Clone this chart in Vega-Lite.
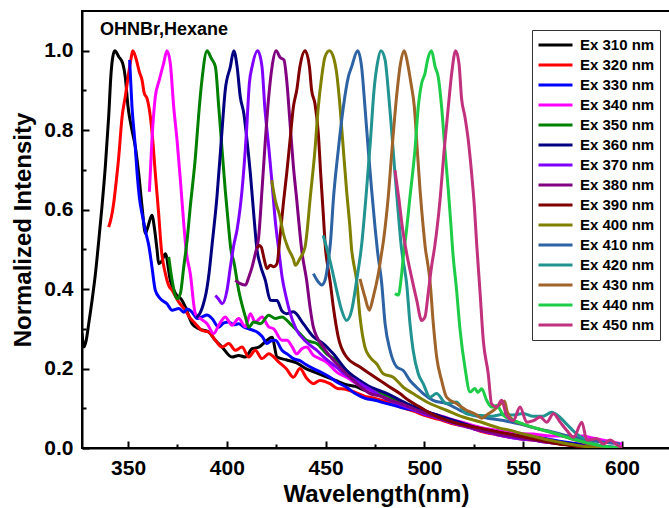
{
"$schema": "https://vega.github.io/schema/vega-lite/v6.json",
"width": 588, "height": 437,
"autosize": {"type": "none"},
"padding": {"left": 82, "top": 11, "right": 0, "bottom": 60},
"config": {"view": {"stroke": "black", "strokeWidth": 2}, "font": "Liberation Sans"},
"datasets": {
"note": [{"x": 335.8, "y": 1.04, "t": "OHNBr,Hexane"}],
"spectra": [
{"s":310,"w":326.7,"v":0.29},{"s":310,"w":327.7,"v":0.254},{"s":310,"w":328.8,"v":0.27},{"s":310,"w":330.1,"v":0.313},{"s":310,"w":331.8,"v":0.372},{"s":310,"w":333.5,"v":0.439},{"s":310,"w":335.2,"v":0.523},{"s":310,"w":336.8,"v":0.607},{"s":310,"w":338.5,"v":0.708},{"s":310,"w":340.2,"v":0.834},{"s":310,"w":341.4,"v":0.943},{"s":310,"w":342.3,"v":0.985},{"s":310,"w":343.3,"v":1.0},{"s":310,"w":345.3,"v":0.985},{"s":310,"w":347.3,"v":0.968},{"s":310,"w":348.6,"v":0.934},{"s":310,"w":350,"v":0.859},{"s":310,"w":352,"v":0.8},{"s":310,"w":353.7,"v":0.758},{"s":310,"w":355.4,"v":0.691},{"s":310,"w":357.1,"v":0.607},{"s":310,"w":358.8,"v":0.54},{"s":310,"w":360,"v":0.556},{"s":310,"w":362.1,"v":0.586},{"s":310,"w":363.5,"v":0.548},{"s":310,"w":364.7,"v":0.498},{"s":310,"w":365.5,"v":0.464},{"s":310,"w":367,"v":0.47},{"s":310,"w":368.9,"v":0.489},{"s":310,"w":371.4,"v":0.422},{"s":310,"w":374,"v":0.389},{"s":310,"w":377.3,"v":0.372},{"s":310,"w":379,"v":0.355},{"s":310,"w":382.4,"v":0.313},{"s":310,"w":385.8,"v":0.3},{"s":310,"w":390.8,"v":0.292},{"s":310,"w":394.2,"v":0.271},{"s":310,"w":397.6,"v":0.254},{"s":310,"w":402.6,"v":0.229},{"s":310,"w":406,"v":0.233},{"s":310,"w":409.4,"v":0.229},{"s":310,"w":412.8,"v":0.25},{"s":310,"w":416.2,"v":0.254},{"s":310,"w":420.3,"v":0.271},{"s":310,"w":422.9,"v":0.279},{"s":310,"w":425.4,"v":0.229},{"s":310,"w":430,"v":0.222},{"s":310,"w":435,"v":0.215},{"s":310,"w":440,"v":0.2},{"s":310,"w":445,"v":0.19},{"s":310,"w":450,"v":0.18},{"s":310,"w":455,"v":0.17},{"s":310,"w":460,"v":0.16},{"s":310,"w":465,"v":0.155},{"s":310,"w":470,"v":0.145},{"s":310,"w":475,"v":0.138},{"s":310,"w":480,"v":0.128},{"s":310,"w":485,"v":0.12},{"s":310,"w":490,"v":0.11},{"s":310,"w":495,"v":0.1},{"s":310,"w":500,"v":0.09},{"s":310,"w":505,"v":0.085},{"s":310,"w":510,"v":0.075},{"s":310,"w":515,"v":0.068},{"s":310,"w":520,"v":0.06},{"s":310,"w":525,"v":0.052},{"s":310,"w":530,"v":0.045},{"s":310,"w":535,"v":0.04},{"s":310,"w":540,"v":0.035},{"s":310,"w":545,"v":0.032},{"s":310,"w":550,"v":0.027},{"s":310,"w":555,"v":0.022},{"s":310,"w":560,"v":0.02},{"s":310,"w":565,"v":0.016},{"s":310,"w":570,"v":0.012},{"s":310,"w":575,"v":0.01},{"s":310,"w":580,"v":0.007},{"s":310,"w":585,"v":0.005},{"s":310,"w":590,"v":0.003},{"s":310,"w":595,"v":0.002},{"s":310,"w":600,"v":0},
{"s":320,"w":340.2,"v":0.556},{"s":320,"w":341.5,"v":0.58},{"s":320,"w":342.7,"v":0.615},{"s":320,"w":344,"v":0.67},{"s":320,"w":345.3,"v":0.733},{"s":320,"w":347,"v":0.834},{"s":320,"w":348.6,"v":0.884},{"s":320,"w":350.3,"v":0.943},{"s":320,"w":351.5,"v":0.98},{"s":320,"w":352.4,"v":1.0},{"s":320,"w":354,"v":0.981},{"s":320,"w":355.7,"v":0.947},{"s":320,"w":357.1,"v":0.926},{"s":320,"w":358.2,"v":0.893},{"s":320,"w":359.6,"v":0.88},{"s":320,"w":361.3,"v":0.834},{"s":320,"w":362.5,"v":0.775},{"s":320,"w":363.8,"v":0.691},{"s":320,"w":365.5,"v":0.59},{"s":320,"w":366.9,"v":0.498},{"s":320,"w":368.9,"v":0.439},{"s":320,"w":370.5,"v":0.41},{"s":320,"w":372.3,"v":0.397},{"s":320,"w":375.7,"v":0.367},{"s":320,"w":379.1,"v":0.346},{"s":320,"w":381,"v":0.33},{"s":320,"w":384.1,"v":0.313},{"s":320,"w":387.4,"v":0.296},{"s":320,"w":390.8,"v":0.292},{"s":320,"w":394.2,"v":0.271},{"s":320,"w":397.6,"v":0.254},{"s":320,"w":401,"v":0.263},{"s":320,"w":404.3,"v":0.246},{"s":320,"w":407.7,"v":0.254},{"s":320,"w":411.1,"v":0.229},{"s":320,"w":414.4,"v":0.246},{"s":320,"w":417.8,"v":0.225},{"s":320,"w":421.2,"v":0.237},{"s":320,"w":426.3,"v":0.216},{"s":320,"w":430,"v":0.2},{"s":320,"w":433.7,"v":0.178},{"s":320,"w":437,"v":0.2},{"s":320,"w":440.5,"v":0.175},{"s":320,"w":443.8,"v":0.162},{"s":320,"w":447.1,"v":0.17},{"s":320,"w":452.2,"v":0.162},{"s":320,"w":456,"v":0.15},{"s":320,"w":460,"v":0.148},{"s":320,"w":465,"v":0.14},{"s":320,"w":470,"v":0.13},{"s":320,"w":475,"v":0.125},{"s":320,"w":480,"v":0.118},{"s":320,"w":485,"v":0.108},{"s":320,"w":490,"v":0.1},{"s":320,"w":495,"v":0.092},{"s":320,"w":500,"v":0.082},{"s":320,"w":505,"v":0.075},{"s":320,"w":510,"v":0.068},{"s":320,"w":515,"v":0.06},{"s":320,"w":520,"v":0.055},{"s":320,"w":525,"v":0.048},{"s":320,"w":530,"v":0.04},{"s":320,"w":535,"v":0.035},{"s":320,"w":540,"v":0.03},{"s":320,"w":545,"v":0.026},{"s":320,"w":550,"v":0.022},{"s":320,"w":555,"v":0.02},{"s":320,"w":560,"v":0.016},{"s":320,"w":565,"v":0.013},{"s":320,"w":570,"v":0.01},{"s":320,"w":575,"v":0.008},{"s":320,"w":580,"v":0.005},{"s":320,"w":585,"v":0.003},{"s":320,"w":590,"v":0.002},{"s":320,"w":595,"v":0.001},{"s":320,"w":600,"v":0},
{"s":330,"w":350.8,"v":0.977},{"s":330,"w":352,"v":0.859},{"s":330,"w":353.4,"v":0.775},{"s":330,"w":354.6,"v":0.691},{"s":330,"w":355.7,"v":0.632},{"s":330,"w":357.4,"v":0.582},{"s":330,"w":359.1,"v":0.54},{"s":330,"w":360.5,"v":0.51},{"s":330,"w":362.1,"v":0.456},{"s":330,"w":363.8,"v":0.397},{"s":330,"w":366.3,"v":0.376},{"s":330,"w":369.7,"v":0.363},{"s":330,"w":372.3,"v":0.347},{"s":330,"w":375.7,"v":0.351},{"s":330,"w":378.2,"v":0.342},{"s":330,"w":380,"v":0.35},{"s":330,"w":382.4,"v":0.342},{"s":330,"w":385,"v":0.326},{"s":330,"w":387.4,"v":0.33},{"s":330,"w":390,"v":0.335},{"s":330,"w":392.5,"v":0.326},{"s":330,"w":395.9,"v":0.304},{"s":330,"w":398.5,"v":0.315},{"s":330,"w":401,"v":0.317},{"s":330,"w":403.5,"v":0.31},{"s":330,"w":406,"v":0.313},{"s":330,"w":408.5,"v":0.305},{"s":330,"w":411.1,"v":0.3},{"s":330,"w":415.3,"v":0.292},{"s":330,"w":418,"v":0.28},{"s":330,"w":420.3,"v":0.263},{"s":330,"w":422.5,"v":0.27},{"s":330,"w":424.6,"v":0.271},{"s":330,"w":427.9,"v":0.246},{"s":330,"w":431,"v":0.235},{"s":330,"w":433.7,"v":0.225},{"s":330,"w":437,"v":0.22},{"s":330,"w":440,"v":0.21},{"s":330,"w":443.8,"v":0.2},{"s":330,"w":448,"v":0.19},{"s":330,"w":452.2,"v":0.178},{"s":330,"w":456,"v":0.165},{"s":330,"w":460.6,"v":0.153},{"s":330,"w":465,"v":0.137},{"s":330,"w":470,"v":0.125},{"s":330,"w":475,"v":0.12},{"s":330,"w":480,"v":0.113},{"s":330,"w":485,"v":0.107},{"s":330,"w":490,"v":0.1},{"s":330,"w":495,"v":0.095},{"s":330,"w":500,"v":0.088},{"s":330,"w":505,"v":0.08},{"s":330,"w":510,"v":0.072},{"s":330,"w":515,"v":0.068},{"s":330,"w":520,"v":0.06},{"s":330,"w":525,"v":0.052},{"s":330,"w":530,"v":0.047},{"s":330,"w":535,"v":0.042},{"s":330,"w":540,"v":0.038},{"s":330,"w":545,"v":0.035},{"s":330,"w":550,"v":0.03},{"s":330,"w":555,"v":0.03},{"s":330,"w":560,"v":0.025},{"s":330,"w":565,"v":0.02},{"s":330,"w":570,"v":0.016},{"s":330,"w":575,"v":0.012},{"s":330,"w":580,"v":0.009},{"s":330,"w":585,"v":0.006},{"s":330,"w":590,"v":0.004},{"s":330,"w":595,"v":0.002},{"s":330,"w":600,"v":0},
{"s":340,"w":360.8,"v":0.645},{"s":340,"w":362.1,"v":0.775},{"s":340,"w":363.8,"v":0.884},{"s":340,"w":365.8,"v":0.926},{"s":340,"w":368,"v":0.968},{"s":340,"w":369.7,"v":1.0},{"s":340,"w":371.4,"v":0.968},{"s":340,"w":373.1,"v":0.859},{"s":340,"w":374.8,"v":0.775},{"s":340,"w":376.5,"v":0.674},{"s":340,"w":378.2,"v":0.565},{"s":340,"w":379.4,"v":0.498},{"s":340,"w":381.5,"v":0.439},{"s":340,"w":384.1,"v":0.338},{"s":340,"w":386.6,"v":0.326},{"s":340,"w":390,"v":0.313},{"s":340,"w":393.3,"v":0.288},{"s":340,"w":395.9,"v":0.309},{"s":340,"w":399.2,"v":0.33},{"s":340,"w":402.6,"v":0.309},{"s":340,"w":406,"v":0.326},{"s":340,"w":409.4,"v":0.305},{"s":340,"w":411.9,"v":0.338},{"s":340,"w":414.4,"v":0.317},{"s":340,"w":417.8,"v":0.33},{"s":340,"w":421.2,"v":0.305},{"s":340,"w":423.7,"v":0.3},{"s":340,"w":427.9,"v":0.271},{"s":340,"w":430.5,"v":0.271},{"s":340,"w":433,"v":0.255},{"s":340,"w":435.4,"v":0.237},{"s":340,"w":438,"v":0.25},{"s":340,"w":440.4,"v":0.254},{"s":340,"w":443.8,"v":0.233},{"s":340,"w":447,"v":0.225},{"s":340,"w":450.5,"v":0.216},{"s":340,"w":455.6,"v":0.191},{"s":340,"w":460.6,"v":0.178},{"s":340,"w":465.7,"v":0.162},{"s":340,"w":470,"v":0.15},{"s":340,"w":475,"v":0.14},{"s":340,"w":480,"v":0.13},{"s":340,"w":485,"v":0.12},{"s":340,"w":490,"v":0.11},{"s":340,"w":495,"v":0.1},{"s":340,"w":500,"v":0.092},{"s":340,"w":505,"v":0.085},{"s":340,"w":510,"v":0.078},{"s":340,"w":515,"v":0.07},{"s":340,"w":520,"v":0.064},{"s":340,"w":525,"v":0.056},{"s":340,"w":530,"v":0.05},{"s":340,"w":535,"v":0.046},{"s":340,"w":540,"v":0.042},{"s":340,"w":545,"v":0.04},{"s":340,"w":550,"v":0.036},{"s":340,"w":555,"v":0.035},{"s":340,"w":560,"v":0.032},{"s":340,"w":565,"v":0.03},{"s":340,"w":570,"v":0.03},{"s":340,"w":575,"v":0.028},{"s":340,"w":580,"v":0.03},{"s":340,"w":585,"v":0.025},{"s":340,"w":590,"v":0.02},{"s":340,"w":595,"v":0.015},{"s":340,"w":600,"v":0.01},
{"s":350,"w":370.6,"v":0.481},{"s":350,"w":372.3,"v":0.422},{"s":350,"w":374.8,"v":0.376},{"s":350,"w":376.5,"v":0.389},{"s":350,"w":378.2,"v":0.456},{"s":350,"w":379.9,"v":0.523},{"s":350,"w":381.5,"v":0.607},{"s":350,"w":384.1,"v":0.733},{"s":350,"w":385.8,"v":0.842},{"s":350,"w":387.4,"v":0.926},{"s":350,"w":390,"v":1.0},{"s":350,"w":392.1,"v":0.981},{"s":350,"w":394.2,"v":0.96},{"s":350,"w":395.9,"v":0.859},{"s":350,"w":397.6,"v":0.75},{"s":350,"w":399.2,"v":0.649},{"s":350,"w":400.9,"v":0.556},{"s":350,"w":402.1,"v":0.498},{"s":350,"w":403.5,"v":0.47},{"s":350,"w":406,"v":0.397},{"s":350,"w":409.4,"v":0.33},{"s":350,"w":411.1,"v":0.304},{"s":350,"w":413.6,"v":0.317},{"s":350,"w":417,"v":0.313},{"s":350,"w":421.2,"v":0.334},{"s":350,"w":424.6,"v":0.326},{"s":350,"w":427.9,"v":0.33},{"s":350,"w":432,"v":0.313},{"s":350,"w":437,"v":0.288},{"s":350,"w":440.4,"v":0.271},{"s":350,"w":445.5,"v":0.263},{"s":350,"w":450.5,"v":0.237},{"s":350,"w":455.6,"v":0.22},{"s":350,"w":460.6,"v":0.195},{"s":350,"w":467.3,"v":0.162},{"s":350,"w":472,"v":0.15},{"s":350,"w":477,"v":0.14},{"s":350,"w":482,"v":0.13},{"s":350,"w":487,"v":0.118},{"s":350,"w":492,"v":0.108},{"s":350,"w":497,"v":0.098},{"s":350,"w":502,"v":0.088},{"s":350,"w":507,"v":0.08},{"s":350,"w":512,"v":0.072},{"s":350,"w":517,"v":0.064},{"s":350,"w":522,"v":0.056},{"s":350,"w":527,"v":0.05},{"s":350,"w":532,"v":0.043},{"s":350,"w":537,"v":0.038},{"s":350,"w":542,"v":0.034},{"s":350,"w":547,"v":0.03},{"s":350,"w":552,"v":0.026},{"s":350,"w":557,"v":0.022},{"s":350,"w":562,"v":0.018},{"s":350,"w":567,"v":0.014},{"s":350,"w":572,"v":0.01},{"s":350,"w":577,"v":0.007},{"s":350,"w":582,"v":0.004},{"s":350,"w":587,"v":0.002},{"s":350,"w":592,"v":0.001},{"s":350,"w":597,"v":0},
{"s":360,"w":384.7,"v":0.328},{"s":360,"w":386.5,"v":0.34},{"s":360,"w":388,"v":0.36},{"s":360,"w":389.5,"v":0.39},{"s":360,"w":391,"v":0.44},{"s":360,"w":392.5,"v":0.51},{"s":360,"w":395,"v":0.632},{"s":360,"w":397.2,"v":0.775},{"s":360,"w":399.2,"v":0.901},{"s":360,"w":401.8,"v":0.96},{"s":360,"w":403.5,"v":1.0},{"s":360,"w":405.2,"v":0.96},{"s":360,"w":406.8,"v":0.884},{"s":360,"w":408.6,"v":0.842},{"s":360,"w":410.2,"v":0.775},{"s":360,"w":411.9,"v":0.691},{"s":360,"w":413.6,"v":0.59},{"s":360,"w":415.3,"v":0.498},{"s":360,"w":417,"v":0.46},{"s":360,"w":419.5,"v":0.422},{"s":360,"w":422,"v":0.372},{"s":360,"w":425.4,"v":0.371},{"s":360,"w":427.9,"v":0.345},{"s":360,"w":430.3,"v":0.338},{"s":360,"w":433.7,"v":0.343},{"s":360,"w":438.7,"v":0.313},{"s":360,"w":443.8,"v":0.28},{"s":360,"w":448.8,"v":0.263},{"s":360,"w":453.9,"v":0.237},{"s":360,"w":460.6,"v":0.195},{"s":360,"w":467.3,"v":0.17},{"s":360,"w":472,"v":0.155},{"s":360,"w":477,"v":0.145},{"s":360,"w":482,"v":0.135},{"s":360,"w":487,"v":0.122},{"s":360,"w":492,"v":0.11},{"s":360,"w":497,"v":0.1},{"s":360,"w":502,"v":0.09},{"s":360,"w":507,"v":0.082},{"s":360,"w":512,"v":0.074},{"s":360,"w":517,"v":0.066},{"s":360,"w":522,"v":0.058},{"s":360,"w":527,"v":0.05},{"s":360,"w":532,"v":0.045},{"s":360,"w":537,"v":0.04},{"s":360,"w":542,"v":0.035},{"s":360,"w":547,"v":0.03},{"s":360,"w":552,"v":0.028},{"s":360,"w":557,"v":0.024},{"s":360,"w":562,"v":0.02},{"s":360,"w":567,"v":0.016},{"s":360,"w":572,"v":0.012},{"s":360,"w":577,"v":0.009},{"s":360,"w":582,"v":0.006},{"s":360,"w":587,"v":0.004},{"s":360,"w":592,"v":0.002},{"s":360,"w":597,"v":0},
{"s":370,"w":394.2,"v":0.384},{"s":370,"w":395.8,"v":0.375},{"s":370,"w":397.6,"v":0.363},{"s":370,"w":400.1,"v":0.397},{"s":370,"w":401.8,"v":0.456},{"s":370,"w":403.5,"v":0.51},{"s":370,"w":405.2,"v":0.55},{"s":370,"w":407.7,"v":0.649},{"s":370,"w":409.9,"v":0.792},{"s":370,"w":411.4,"v":0.918},{"s":370,"w":412.8,"v":0.96},{"s":370,"w":415.6,"v":1.0},{"s":370,"w":417.8,"v":0.96},{"s":370,"w":419.2,"v":0.859},{"s":370,"w":421.2,"v":0.758},{"s":370,"w":422.9,"v":0.666},{"s":370,"w":424.5,"v":0.573},{"s":370,"w":426.3,"v":0.498},{"s":370,"w":428,"v":0.43},{"s":370,"w":430,"v":0.38},{"s":370,"w":432,"v":0.34},{"s":370,"w":435,"v":0.3},{"s":370,"w":440,"v":0.268},{"s":370,"w":445,"v":0.248},{"s":370,"w":450,"v":0.225},{"s":370,"w":455,"v":0.205},{"s":370,"w":460,"v":0.185},{"s":370,"w":465,"v":0.17},{"s":370,"w":470,"v":0.155},{"s":370,"w":475,"v":0.14},{"s":370,"w":480,"v":0.125},{"s":370,"w":485,"v":0.115},{"s":370,"w":490,"v":0.105},{"s":370,"w":495,"v":0.095},{"s":370,"w":500,"v":0.085},{"s":370,"w":505,"v":0.078},{"s":370,"w":510,"v":0.07},{"s":370,"w":515,"v":0.062},{"s":370,"w":520,"v":0.055},{"s":370,"w":525,"v":0.048},{"s":370,"w":530,"v":0.042},{"s":370,"w":535,"v":0.036},{"s":370,"w":540,"v":0.03},{"s":370,"w":545,"v":0.025},{"s":370,"w":550,"v":0.022},{"s":370,"w":555,"v":0.02},{"s":370,"w":560,"v":0.016},{"s":370,"w":565,"v":0.013},{"s":370,"w":570,"v":0.01},{"s":370,"w":575,"v":0.007},{"s":370,"w":580,"v":0.005},{"s":370,"w":585,"v":0.003},{"s":370,"w":590,"v":0.002},{"s":370,"w":595,"v":0.001},{"s":370,"w":600,"v":0},
{"s":380,"w":404.3,"v":0.422},{"s":380,"w":406.8,"v":0.414},{"s":380,"w":409.4,"v":0.41},{"s":380,"w":411.1,"v":0.43},{"s":380,"w":412.8,"v":0.456},{"s":380,"w":414.4,"v":0.489},{"s":380,"w":416.1,"v":0.53},{"s":380,"w":417.8,"v":0.649},{"s":380,"w":419.5,"v":0.775},{"s":380,"w":421.2,"v":0.884},{"s":380,"w":422.9,"v":0.96},{"s":380,"w":424.9,"v":1.0},{"s":380,"w":427,"v":0.983},{"s":380,"w":428.9,"v":0.977},{"s":380,"w":430.3,"v":0.926},{"s":380,"w":432,"v":0.817},{"s":380,"w":433.7,"v":0.708},{"s":380,"w":435.4,"v":0.624},{"s":380,"w":437,"v":0.54},{"s":380,"w":437.9,"v":0.498},{"s":380,"w":440.4,"v":0.422},{"s":380,"w":442.1,"v":0.355},{"s":380,"w":443.8,"v":0.304},{"s":380,"w":448.8,"v":0.254},{"s":380,"w":455.6,"v":0.212},{"s":380,"w":464,"v":0.17},{"s":380,"w":472.4,"v":0.137},{"s":380,"w":478,"v":0.13},{"s":380,"w":483,"v":0.12},{"s":380,"w":488,"v":0.112},{"s":380,"w":493,"v":0.102},{"s":380,"w":498,"v":0.092},{"s":380,"w":503,"v":0.083},{"s":380,"w":508,"v":0.075},{"s":380,"w":513,"v":0.067},{"s":380,"w":518,"v":0.06},{"s":380,"w":523,"v":0.052},{"s":380,"w":528,"v":0.045},{"s":380,"w":533,"v":0.04},{"s":380,"w":538,"v":0.034},{"s":380,"w":543,"v":0.03},{"s":380,"w":548,"v":0.026},{"s":380,"w":553,"v":0.022},{"s":380,"w":558,"v":0.018},{"s":380,"w":563,"v":0.014},{"s":380,"w":568,"v":0.011},{"s":380,"w":573,"v":0.008},{"s":380,"w":578,"v":0.005},{"s":380,"w":583,"v":0.003},{"s":380,"w":588,"v":0.002},{"s":380,"w":593,"v":0.001},{"s":380,"w":598,"v":0},
{"s":390,"w":415.3,"v":0.503},{"s":390,"w":416.5,"v":0.51},{"s":390,"w":417.5,"v":0.505},{"s":390,"w":418.7,"v":0.48},{"s":390,"w":420.3,"v":0.452},{"s":390,"w":422,"v":0.46},{"s":390,"w":423.7,"v":0.456},{"s":390,"w":425.4,"v":0.464},{"s":390,"w":426.9,"v":0.53},{"s":390,"w":428.6,"v":0.615},{"s":390,"w":430.3,"v":0.691},{"s":390,"w":432,"v":0.775},{"s":390,"w":433.7,"v":0.859},{"s":390,"w":435.4,"v":0.901},{"s":390,"w":437,"v":0.96},{"s":390,"w":439.6,"v":1.0},{"s":390,"w":441.8,"v":0.96},{"s":390,"w":442.9,"v":0.901},{"s":390,"w":444.6,"v":0.867},{"s":390,"w":446.3,"v":0.792},{"s":390,"w":447.5,"v":0.691},{"s":390,"w":448.8,"v":0.59},{"s":390,"w":450,"v":0.498},{"s":390,"w":451,"v":0.46},{"s":390,"w":452.2,"v":0.422},{"s":390,"w":453.9,"v":0.355},{"s":390,"w":456.4,"v":0.279},{"s":390,"w":460.6,"v":0.229},{"s":390,"w":467.4,"v":0.204},{"s":390,"w":472.4,"v":0.187},{"s":390,"w":477.5,"v":0.17},{"s":390,"w":482,"v":0.155},{"s":390,"w":487.6,"v":0.137},{"s":390,"w":492,"v":0.12},{"s":390,"w":497.7,"v":0.103},{"s":390,"w":504,"v":0.085},{"s":390,"w":511.2,"v":0.07},{"s":390,"w":518,"v":0.06},{"s":390,"w":523,"v":0.055},{"s":390,"w":528,"v":0.05},{"s":390,"w":533,"v":0.045},{"s":390,"w":538,"v":0.04},{"s":390,"w":543,"v":0.035},{"s":390,"w":548,"v":0.03},{"s":390,"w":553,"v":0.025},{"s":390,"w":558,"v":0.02},{"s":390,"w":563,"v":0.015},{"s":390,"w":568,"v":0.01},{"s":390,"w":573,"v":0.007},{"s":390,"w":578,"v":0.004},{"s":390,"w":583,"v":0.002},{"s":390,"w":588,"v":0},
{"s":400,"w":422.7,"v":0.674},{"s":400,"w":424.5,"v":0.624},{"s":400,"w":426.9,"v":0.582},{"s":400,"w":428.6,"v":0.54},{"s":400,"w":431.1,"v":0.502},{"s":400,"w":433.7,"v":0.475},{"s":400,"w":434.7,"v":0.46},{"s":400,"w":437,"v":0.477},{"s":400,"w":439.6,"v":0.506},{"s":400,"w":440.5,"v":0.54},{"s":400,"w":442.1,"v":0.624},{"s":400,"w":444.6,"v":0.75},{"s":400,"w":446.3,"v":0.859},{"s":400,"w":448,"v":0.934},{"s":400,"w":449.7,"v":0.985},{"s":400,"w":451.9,"v":1.0},{"s":400,"w":453.9,"v":0.985},{"s":400,"w":455.6,"v":0.943},{"s":400,"w":457.3,"v":0.859},{"s":400,"w":459,"v":0.75},{"s":400,"w":460.6,"v":0.649},{"s":400,"w":462.3,"v":0.556},{"s":400,"w":463.2,"v":0.498},{"s":400,"w":464,"v":0.47},{"s":400,"w":465.7,"v":0.422},{"s":400,"w":467.4,"v":0.33},{"s":400,"w":469.9,"v":0.254},{"s":400,"w":472.4,"v":0.229},{"s":400,"w":475.8,"v":0.212},{"s":400,"w":479.2,"v":0.187},{"s":400,"w":484.2,"v":0.178},{"s":400,"w":489.3,"v":0.153},{"s":400,"w":494.3,"v":0.137},{"s":400,"w":502.8,"v":0.112},{"s":400,"w":511.2,"v":0.095},{"s":400,"w":519.6,"v":0.078},{"s":400,"w":528.1,"v":0.066},{"s":400,"w":533,"v":0.058},{"s":400,"w":538,"v":0.05},{"s":400,"w":543,"v":0.045},{"s":400,"w":548,"v":0.038},{"s":400,"w":553,"v":0.032},{"s":400,"w":558,"v":0.026},{"s":400,"w":563,"v":0.02},{"s":400,"w":568,"v":0.015},{"s":400,"w":573,"v":0.01},{"s":400,"w":578,"v":0.006},{"s":400,"w":583,"v":0.003},{"s":400,"w":588,"v":0.001},{"s":400,"w":593,"v":0},
{"s":410,"w":443.8,"v":0.439},{"s":410,"w":446.3,"v":0.418},{"s":410,"w":448,"v":0.41},{"s":410,"w":449.7,"v":0.422},{"s":410,"w":451.4,"v":0.472},{"s":410,"w":452.5,"v":0.52},{"s":410,"w":453.9,"v":0.624},{"s":410,"w":456.4,"v":0.75},{"s":410,"w":459,"v":0.859},{"s":410,"w":461.5,"v":0.934},{"s":410,"w":463.2,"v":0.96},{"s":410,"w":466.2,"v":1.0},{"s":410,"w":468.2,"v":0.96},{"s":410,"w":469.9,"v":0.859},{"s":410,"w":471.6,"v":0.75},{"s":410,"w":473.3,"v":0.649},{"s":410,"w":475,"v":0.556},{"s":410,"w":476.2,"v":0.498},{"s":410,"w":478.4,"v":0.414},{"s":410,"w":480.1,"v":0.313},{"s":410,"w":482.6,"v":0.246},{"s":410,"w":486,"v":0.204},{"s":410,"w":489.3,"v":0.195},{"s":410,"w":492.7,"v":0.17},{"s":410,"w":496,"v":0.153},{"s":410,"w":499.4,"v":0.137},{"s":410,"w":504.4,"v":0.12},{"s":410,"w":511.2,"v":0.112},{"s":410,"w":518,"v":0.095},{"s":410,"w":524.7,"v":0.082},{"s":410,"w":532,"v":0.075},{"s":410,"w":540,"v":0.069},{"s":410,"w":548.4,"v":0.06},{"s":410,"w":556,"v":0.05},{"s":410,"w":565.3,"v":0.04},{"s":410,"w":573,"v":0.03},{"s":410,"w":582.2,"v":0.02},{"s":410,"w":590,"v":0.015},{"s":410,"w":599,"v":0.01},
{"s":420,"w":448.8,"v":0.535},{"s":420,"w":452.2,"v":0.472},{"s":420,"w":455.6,"v":0.397},{"s":420,"w":458.1,"v":0.347},{"s":420,"w":460.6,"v":0.321},{"s":420,"w":463.2,"v":0.347},{"s":420,"w":465.7,"v":0.422},{"s":420,"w":468.2,"v":0.51},{"s":420,"w":470.7,"v":0.649},{"s":420,"w":472.7,"v":0.775},{"s":420,"w":474.5,"v":0.901},{"s":420,"w":476.2,"v":0.968},{"s":420,"w":478,"v":1.0},{"s":420,"w":480.1,"v":0.977},{"s":420,"w":481.7,"v":0.901},{"s":420,"w":483.4,"v":0.8},{"s":420,"w":485.1,"v":0.691},{"s":420,"w":486.8,"v":0.59},{"s":420,"w":488.5,"v":0.498},{"s":420,"w":489.3,"v":0.47},{"s":420,"w":491,"v":0.414},{"s":420,"w":492.7,"v":0.313},{"s":420,"w":494.3,"v":0.246},{"s":420,"w":496.9,"v":0.187},{"s":420,"w":499.4,"v":0.162},{"s":420,"w":502.8,"v":0.128},{"s":420,"w":506.1,"v":0.137},{"s":420,"w":511.2,"v":0.112},{"s":420,"w":516.2,"v":0.116},{"s":420,"w":521.3,"v":0.086},{"s":420,"w":528,"v":0.082},{"s":420,"w":534,"v":0.08},{"s":420,"w":540,"v":0.085},{"s":420,"w":545,"v":0.083},{"s":420,"w":550,"v":0.087},{"s":420,"w":555,"v":0.08},{"s":420,"w":560,"v":0.08},{"s":420,"w":564.4,"v":0.09},{"s":420,"w":568,"v":0.08},{"s":420,"w":572,"v":0.06},{"s":420,"w":576,"v":0.04},{"s":420,"w":580,"v":0.025},{"s":420,"w":585,"v":0.012},{"s":420,"w":590,"v":0.005},{"s":420,"w":595,"v":0},
{"s":430,"w":467.4,"v":0.426},{"s":430,"w":469.9,"v":0.38},{"s":430,"w":472.1,"v":0.347},{"s":430,"w":474.1,"v":0.38},{"s":430,"w":476.7,"v":0.439},{"s":430,"w":478,"v":0.48},{"s":430,"w":479.5,"v":0.53},{"s":430,"w":481.7,"v":0.632},{"s":430,"w":483.7,"v":0.758},{"s":430,"w":485.9,"v":0.884},{"s":430,"w":487.9,"v":0.968},{"s":430,"w":489.8,"v":1.0},{"s":430,"w":491.5,"v":0.968},{"s":430,"w":493.2,"v":0.918},{"s":430,"w":494.9,"v":0.859},{"s":430,"w":496.4,"v":0.75},{"s":430,"w":497.8,"v":0.649},{"s":430,"w":499.4,"v":0.556},{"s":430,"w":500.6,"v":0.498},{"s":430,"w":501.5,"v":0.47},{"s":430,"w":502.8,"v":0.422},{"s":430,"w":504.5,"v":0.313},{"s":430,"w":506.2,"v":0.229},{"s":430,"w":508.7,"v":0.17},{"s":430,"w":511.2,"v":0.128},{"s":430,"w":516.2,"v":0.112},{"s":430,"w":521.3,"v":0.095},{"s":430,"w":526,"v":0.085},{"s":430,"w":529,"v":0.075},{"s":430,"w":532,"v":0.085},{"s":430,"w":535,"v":0.095},{"s":430,"w":538,"v":0.108},{"s":430,"w":540.5,"v":0.118},{"s":430,"w":542,"v":0.09},{"s":430,"w":545,"v":0.07},{"s":430,"w":550,"v":0.06},{"s":430,"w":555,"v":0.052},{"s":430,"w":560,"v":0.045},{"s":430,"w":565,"v":0.038},{"s":430,"w":570,"v":0.03},{"s":430,"w":575,"v":0.022},{"s":430,"w":580,"v":0.015},{"s":430,"w":585,"v":0.008},{"s":430,"w":590,"v":0.003},{"s":430,"w":595,"v":0},
{"s":440,"w":485.1,"v":0.389},{"s":440,"w":486.8,"v":0.385},{"s":440,"w":488.5,"v":0.439},{"s":440,"w":489.7,"v":0.5},{"s":440,"w":490.5,"v":0.53},{"s":440,"w":492.7,"v":0.632},{"s":440,"w":495.2,"v":0.75},{"s":440,"w":496.9,"v":0.859},{"s":440,"w":498.6,"v":0.918},{"s":440,"w":500.3,"v":0.943},{"s":440,"w":501.6,"v":0.977},{"s":440,"w":503.6,"v":1.0},{"s":440,"w":505.4,"v":0.96},{"s":440,"w":507,"v":0.934},{"s":440,"w":508.7,"v":0.859},{"s":440,"w":510.4,"v":0.75},{"s":440,"w":512.1,"v":0.649},{"s":440,"w":513.5,"v":0.556},{"s":440,"w":514.3,"v":0.498},{"s":440,"w":516.3,"v":0.397},{"s":440,"w":518,"v":0.3},{"s":440,"w":520.6,"v":0.2},{"s":440,"w":523.1,"v":0.141},{"s":440,"w":525.6,"v":0.15},{"s":440,"w":527,"v":0.14},{"s":440,"w":529,"v":0.149},{"s":440,"w":531.5,"v":0.12},{"s":440,"w":534,"v":0.103},{"s":440,"w":536.6,"v":0.107},{"s":440,"w":540,"v":0.082},{"s":440,"w":545,"v":0.07},{"s":440,"w":550,"v":0.06},{"s":440,"w":555,"v":0.052},{"s":440,"w":560,"v":0.045},{"s":440,"w":565,"v":0.038},{"s":440,"w":570,"v":0.03},{"s":440,"w":575,"v":0.023},{"s":440,"w":580,"v":0.016},{"s":440,"w":585,"v":0.01},{"s":440,"w":590,"v":0.005},{"s":440,"w":595,"v":0.002},{"s":440,"w":600,"v":0},
{"s":450,"w":485.1,"v":0.699},{"s":450,"w":487,"v":0.63},{"s":450,"w":489,"v":0.55},{"s":450,"w":491,"v":0.49},{"s":450,"w":493.5,"v":0.43},{"s":450,"w":496.1,"v":0.372},{"s":450,"w":498.6,"v":0.321},{"s":450,"w":500.3,"v":0.33},{"s":450,"w":501.9,"v":0.389},{"s":450,"w":503.6,"v":0.456},{"s":450,"w":505.3,"v":0.51},{"s":450,"w":507.9,"v":0.624},{"s":450,"w":510,"v":0.75},{"s":450,"w":512.1,"v":0.859},{"s":450,"w":513.8,"v":0.943},{"s":450,"w":515.8,"v":1.0},{"s":450,"w":517.5,"v":0.968},{"s":450,"w":518.8,"v":0.88},{"s":450,"w":520.5,"v":0.834},{"s":450,"w":522.2,"v":0.775},{"s":450,"w":523.9,"v":0.691},{"s":450,"w":525.3,"v":0.607},{"s":450,"w":526.5,"v":0.51},{"s":450,"w":528.1,"v":0.397},{"s":450,"w":529.8,"v":0.271},{"s":450,"w":532.3,"v":0.187},{"s":450,"w":534,"v":0.111},{"s":450,"w":536.6,"v":0.103},{"s":450,"w":539.1,"v":0.12},{"s":450,"w":541.6,"v":0.082},{"s":450,"w":545,"v":0.069},{"s":450,"w":548.4,"v":0.103},{"s":450,"w":551.8,"v":0.065},{"s":450,"w":555.2,"v":0.069},{"s":450,"w":558.6,"v":0.078},{"s":450,"w":561.9,"v":0.065},{"s":450,"w":565.3,"v":0.086},{"s":450,"w":568.7,"v":0.065},{"s":450,"w":572.1,"v":0.044},{"s":450,"w":575.5,"v":0.027},{"s":450,"w":579.7,"v":0.065},{"s":450,"w":582.2,"v":0.02},{"s":450,"w":587.3,"v":0.023},{"s":450,"w":590.6,"v":0.01},{"s":450,"w":594,"v":0.02},{"s":450,"w":597.4,"v":0.008},{"s":450,"w":600,"v":0}
]
},
"layer": [
{
"data": {"name": "spectra"},
"mark": {"type": "line", "strokeWidth": 3, "clip": true, "interpolate": "monotone"},
"encoding": {
"x": {"field": "w", "type": "quantitative",
  "scale": {"domain": [326.7, 624.3], "nice": false, "zero": false},
  "axis": {"title": "Wavelength(nm)", "values": [350,375,400,425,450,475,500,525,550,575,600],
    "labelExpr": "datum.value % 50 === 0 ? datum.label : ''",
    "tickSize": {"condition": {"test": "datum.value % 50 !== 0", "value": -4}, "value": -7},
    "tickWidth": 2, "tickColor": "black", "domainColor": "black", "domainWidth": 2, "grid": false,
    "labelFont": "Liberation Sans", "labelFontSize": 21, "labelFontWeight": "bold", "labelColor": "black", "labelPadding": 16,
    "titleFont": "Liberation Sans", "titleFontSize": 24, "titleFontWeight": "bold", "titleColor": "black", "titlePadding": 4}},
"y": {"field": "v", "type": "quantitative",
  "scale": {"domain": [0, 1.1], "nice": false},
  "axis": {"title": "Normalized Intensity", "values": [0,0.1,0.2,0.3,0.4,0.5,0.6,0.7,0.8,0.9,1.0],
    "labelExpr": "round(datum.value*10) % 2 === 0 ? format(datum.value, '.1f') : ''",
    "tickSize": {"condition": {"test": "round(datum.value*10) % 2 === 1", "value": -4}, "value": -7},
    "tickWidth": 2, "tickColor": "black", "domainColor": "black", "domainWidth": 2, "grid": false,
    "labelFont": "Liberation Sans", "labelFontSize": 21, "labelFontWeight": "bold", "labelColor": "black", "labelPadding": 16,
    "titleFont": "Liberation Sans", "titleFontSize": 24, "titleFontWeight": "bold", "titleColor": "black", "titlePadding": 8}},
"color": {"field": "s", "type": "nominal",
  "scale": {"domain": [310,320,330,340,350,360,370,380,390,400,410,420,430,440,450],
    "range": ["#000000","#FF0000","#0000FF","#FF00FF","#008000","#000080","#8000FF","#800080","#800000","#808000","#2D63A4","#219391","#A0632A","#1DCD47","#C2317E"]},
  "legend": {"orient": "none", "legendX": 450, "legendY": 19, "title": null,
    "labelExpr": "'Ex ' + datum.label + ' nm'",
    "symbolType": "stroke", "symbolSize": 1156, "symbolStrokeWidth": 3,
    "clipHeight": 19.8, "rowPadding": 0, "padding": 5,
    "labelFont": "Liberation Sans", "labelFontSize": 15, "labelFontWeight": "bold", "labelColor": "black", "labelOffset": 6,
    "strokeColor": "#333333", "fillColor": "white"}}
}
},
{
"data": {"name": "note"},
"mark": {"type": "text", "align": "left", "baseline": "alphabetic", "fontSize": 18, "fontWeight": "bold", "font": "Liberation Sans", "color": "black"},
"encoding": {
"x": {"field": "x", "type": "quantitative"},
"y": {"field": "y", "type": "quantitative"},
"text": {"field": "t"}
}
}
]
}
